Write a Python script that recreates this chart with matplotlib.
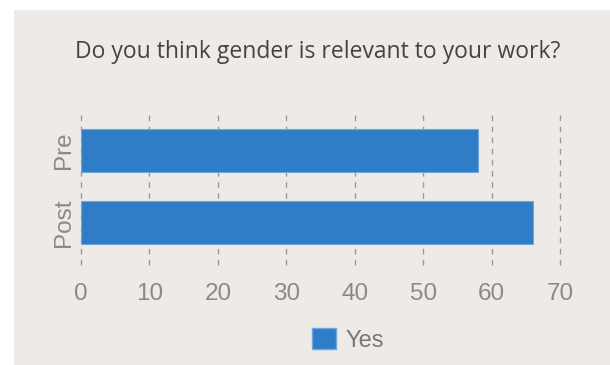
import matplotlib
matplotlib.use("Agg")
import matplotlib.pyplot as plt
from matplotlib.patches import Rectangle, Patch

categories = ["Post", "Pre"]
values = [66, 58]
series_name = "Yes"
xticks = [0, 10, 20, 30, 40, 50, 60, 70]
title = "Do you think gender is relevant to your work?"

bar_color = "#2E7DC6"
bg = "#EEEAE7"
tick_color = "#8A8A8A"

fig = plt.figure(figsize=(6.1, 3.65), dpi=100)
fig.patch.set_facecolor("white")
fig.patches.append(Rectangle((14/610, 0), 1 - 14/610, 1 - 10/365,
                             transform=fig.transFigure, facecolor=bg,
                             edgecolor="none", zorder=-10))

ax = fig.add_axes([81/610, 1 - 265/365, 479/610, 152/365])
ax.set_facecolor("none")
ax.barh(range(len(categories)), values, height=0.6, color=bar_color,
        edgecolor="#6FA6DC", linewidth=0.8, zorder=3)
ax.set_xlim(0, 70)
ax.set_ylim(-0.59, 1.52)
ax.set_xticks(xticks)
ax.set_xticklabels([str(t) for t in xticks])
ax.set_yticks(range(len(categories)))
ax.set_yticklabels(categories, rotation=90, va="center")
ax.tick_params(axis="x", length=0, pad=13, labelsize=17.5, labelcolor=tick_color)
ax.tick_params(axis="y", length=0, pad=4, labelsize=17.5, labelcolor=tick_color)
for t in ax.get_xticklabels() + ax.get_yticklabels():
    t.set_fontfamily("Liberation Sans")
for s in ax.spines.values():
    s.set_visible(False)
for x in xticks:
    ax.axvline(x, color="#9A9A9A", linestyle=(0, (4, 4)), linewidth=1, zorder=1,
               clip_on=False)

fig.text(318/610, 1 - 52/365, title, ha="center", va="center",
         fontsize=16.5, color="#444444", family="Open Sans")

handle = Patch(facecolor=bar_color, edgecolor="#6FA6DC", label=series_name)
leg = fig.legend(handles=[handle], loc="center", bbox_to_anchor=(348/610, 1 - 340/365),
                 frameon=False, handlelength=1.0, handleheight=1.0, handletextpad=0.4,
                 prop={"family": "Liberation Sans", "size": 17})
for t in leg.get_texts():
    t.set_color("#777777")

fig.savefig("out.png", dpi=100, facecolor=fig.get_facecolor())
